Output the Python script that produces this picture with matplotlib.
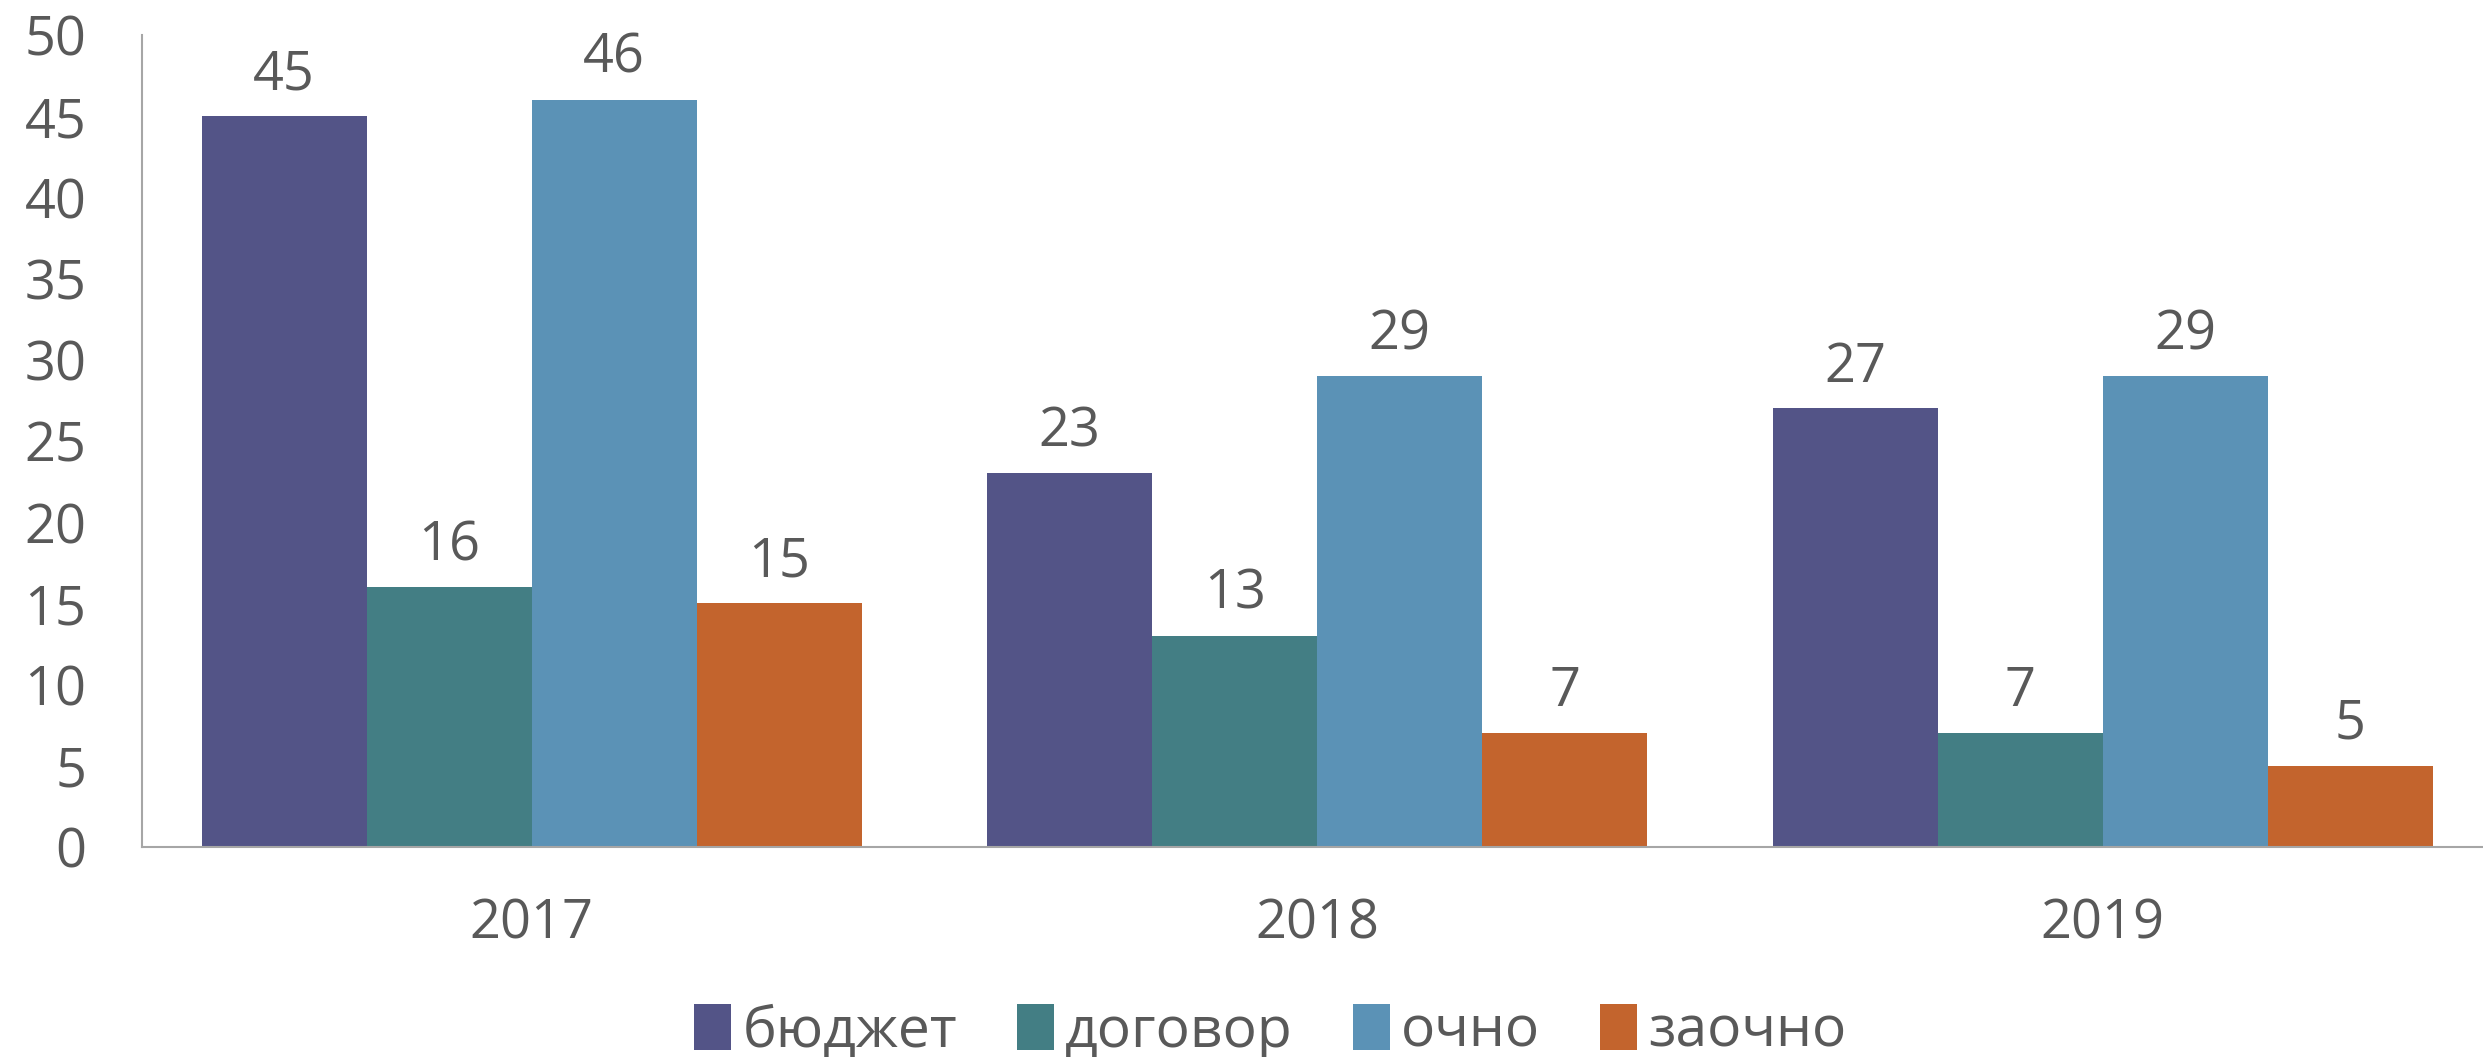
import matplotlib.pyplot as plt
import numpy as np

years = ['2017', '2018', '2019']
series = ['бюджет', 'договор', 'очно', 'заочно']
budget = [45, 23, 27]
contract = [16, 13, 7]
fulltime = [46, 29, 29]
extramural = [15, 7, 5]
colors = ['#535487', '#437E84', '#5B92B6', '#C3642D']

plt.rcParams['font.family'] = ['Open Sans', 'DejaVu Sans']
txt = '#595959'
fs = 39

fig = plt.figure(figsize=(24.83, 10.57), dpi=100)
ax = fig.add_axes([0.0572, 0.1987, 0.9428, 0.7683])

x = np.arange(len(years))
w = 0.21
vals = [budget, contract, fulltime, extramural]
for i, (name, v) in enumerate(zip(series, vals)):
    bars = ax.bar(x + (i - 1.5) * w, v, w, color=colors[i], label=name)
    ax.bar_label(bars, padding=10, fontsize=fs, color=txt)

ax.set_xlim(-0.496, 2.484)
ax.set_ylim(0, 50)
ax.set_yticks(range(0, 51, 5))
ax.set_xticks(x)
ax.set_xticklabels(years)
ax.tick_params(axis='both', length=0, labelsize=fs, labelcolor=txt)
ax.tick_params(axis='y', pad=40)
ax.tick_params(axis='x', pad=36)

for s in ['top', 'right']:
    ax.spines[s].set_visible(False)
ax.spines['left'].set_color('#A6A6A6')
ax.spines['bottom'].set_color('#A6A6A6')
ax.spines['left'].set_linewidth(1.5)
ax.spines['bottom'].set_linewidth(1.5)

ax.legend(loc='center', bbox_to_anchor=(0.482, -0.228), ncol=4, frameon=False,
          fontsize=41, labelcolor=txt, handlelength=0.65, handleheight=0.85,
          handletextpad=0.2, columnspacing=1.05)

fig.savefig('out.png', dpi=100)
